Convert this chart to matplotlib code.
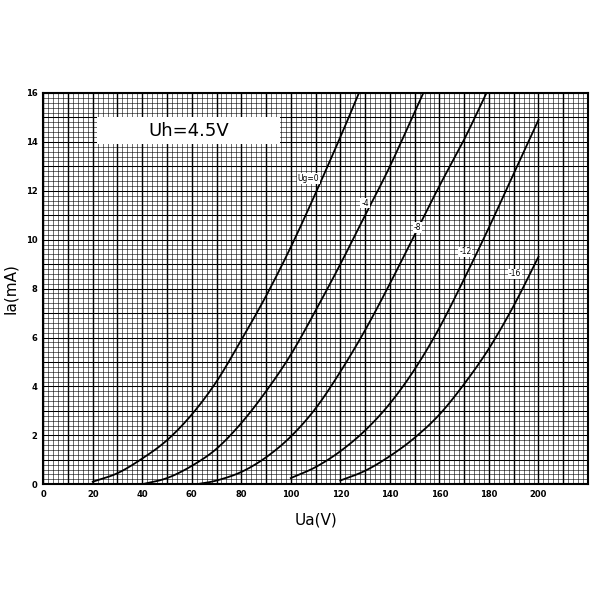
import matplotlib
matplotlib.use("Agg")
import matplotlib.pyplot as plt
import numpy as np
from matplotlib.patches import Rectangle

# anode characteristic curves (Ua in V, Ia in mA)
ua_g0 = [20, 30, 40, 50, 60, 70, 80, 90, 100, 110, 120, 127.5]
ia_g0 = [0.1, 0.45, 1.05, 1.8, 2.85, 4.2, 5.9, 7.7, 9.7, 11.9, 14.2, 16.0]

ua_g4 = [40, 50, 60, 70, 80, 90, 100, 110, 120, 130, 140, 153.5]
ia_g4 = [0.0, 0.25, 0.75, 1.45, 2.5, 3.8, 5.3, 7.1, 9.0, 11.0, 13.0, 16.0]

ua_g8 = [62, 70, 80, 90, 100, 110, 120, 130, 140, 150, 160, 170, 179]
ia_g8 = [0.0, 0.15, 0.5, 1.1, 1.95, 3.1, 4.6, 6.3, 8.2, 10.2, 12.2, 14.1, 16.0]

ua_g12 = [100, 110, 120, 130, 140, 150, 160, 170, 180, 190, 200]
ia_g12 = [0.25, 0.7, 1.35, 2.2, 3.3, 4.7, 6.4, 8.4, 10.5, 12.7, 14.9]

ua_g16 = [120, 130, 140, 150, 160, 170, 180, 190, 200]
ia_g16 = [0.15, 0.55, 1.15, 1.9, 2.85, 4.1, 5.55, 7.3, 9.3]

curves = [(ua_g0, ia_g0), (ua_g4, ia_g4), (ua_g8, ia_g8),
          (ua_g12, ia_g12), (ua_g16, ia_g16)]

curve_labels = ["Ug=0", "-4", "-8", "-12", "-16"]
label_ua = [107, 130, 151, 170.5, 190.5]
label_ia = [12.5, 11.5, 10.5, 9.5, 8.6]

x_ticks = list(range(0, 201, 20))
y_ticks = list(range(0, 17, 2))


def smooth(x, y, n=12):
    # catmull-rom pass through the read points, just to draw a smooth line
    p = np.column_stack([x, y]).astype(float)
    p = np.vstack([2 * p[0] - p[1], p, 2 * p[-1] - p[-2]])
    t = np.linspace(0, 1, n, endpoint=False)[:, None]
    out = []
    for i in range(1, len(p) - 2):
        p0, p1, p2, p3 = p[i - 1], p[i], p[i + 1], p[i + 2]
        out.append(0.5 * (2 * p1 + (-p0 + p2) * t
                          + (2 * p0 - 5 * p1 + 4 * p2 - p3) * t ** 2
                          + (-p0 + 3 * p1 - 3 * p2 + p3) * t ** 3))
    out.append(p[-2][None, :])
    out = np.vstack(out)
    return out[:, 0], out[:, 1]


fig = plt.figure(figsize=(6, 6), dpi=100)
ax = fig.add_axes([0.072, 0.193, 0.908, 0.652])
ax.set_xlim(0, 220)
ax.set_ylim(0, 16)

# graph paper
for v in np.arange(0, 221, 2):
    heavy = (v % 10 == 0)
    ax.axvline(v, color="black", lw=1.0 if heavy else 0.5,
               alpha=1.0 if heavy else 0.8, zorder=1)
for i in np.arange(0, 16.01, 0.2):
    heavy = abs(i - round(i)) < 1e-6
    ax.axhline(i, color="black", lw=0.75 if heavy else 0.5,
               alpha=1.0 if heavy else 0.8, zorder=1)

for ua, ia in curves:
    sx, sy = smooth(ua, ia)
    ax.plot(sx, sy, color="black", lw=1.3, zorder=3)

for txt, x, y in zip(curve_labels, label_ua, label_ia):
    ax.text(x, y, txt, fontsize=5.5, ha="center", va="center", zorder=4,
            bbox=dict(facecolor="white", edgecolor="none", pad=0.6))

ax.add_patch(Rectangle((21.8, 13.9), 73.8, 1.1, facecolor="white",
                       edgecolor="none", zorder=4))
ax.text(58.7, 14.45, "Uh=4.5V", fontsize=13, ha="center", va="center",
        zorder=5)

ax.set_xticks(x_ticks)
ax.set_yticks(y_ticks)
ax.tick_params(length=0, labelsize=6, pad=4)
for lab in ax.get_xticklabels() + ax.get_yticklabels():
    lab.set_fontweight("bold")
for s in ax.spines.values():
    s.set_linewidth(1.5)

ax.set_xlabel("Ua(V)", fontsize=11, labelpad=10)
ax.set_ylabel("Ia(mA)", fontsize=11, labelpad=6)

fig.savefig("out.png", dpi=100)
